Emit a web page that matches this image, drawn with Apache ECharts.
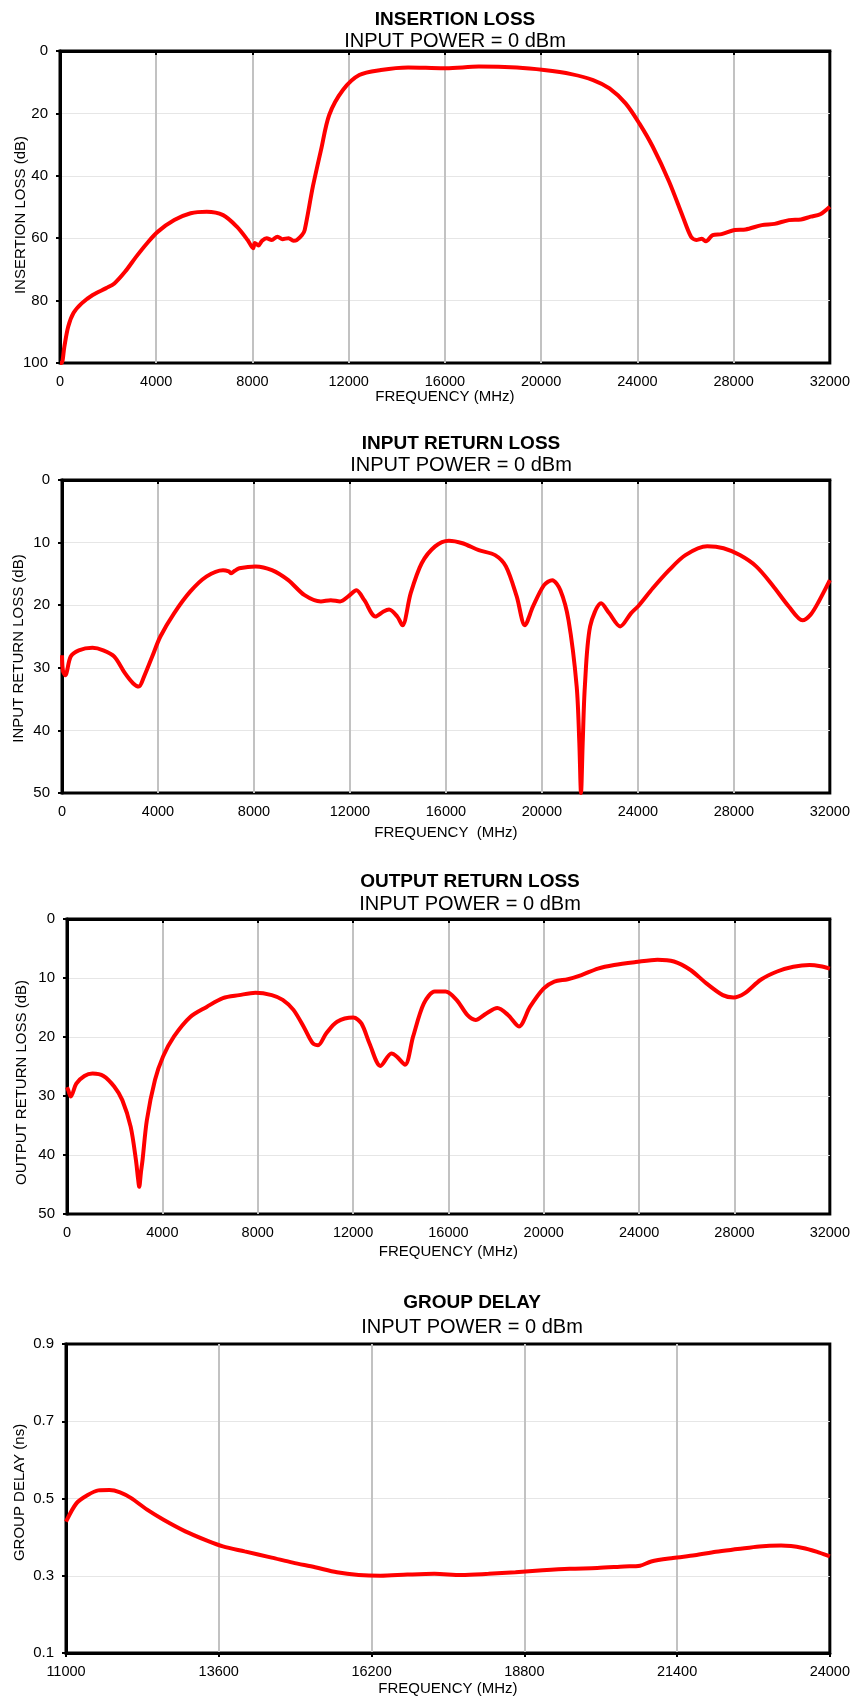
<!DOCTYPE html>
<html>
<head>
<meta charset="utf-8">
<script src="https://cdn.jsdelivr.net/npm/echarts@6/dist/echarts.min.js"></script>
<style>
  html, body { margin: 0; padding: 0; background: #fff; }
  #chart { width: 853px; height: 1698px; }
</style>
</head>
<body>
<div id="chart"></div>
<script>
// insertion loss
const ilFreq = [0, 70, 180, 340, 560, 900, 1360, 1920, 2260, 2710, 3170, 3620, 4070, 4750, 5430, 6100, 6780, 7350, 7800, 8030, 8100, 8250, 8400, 8590, 8800, 9040, 9250, 9500, 9700, 9840, 10060, 10170, 10510, 10850, 11190, 11760, 12440, 13340, 14470, 15200, 16050, 17410, 18990, 20120, 21250, 22160, 22840, 23510, 24080, 24640, 25320, 25890, 26230, 26450, 26680, 26850, 27130, 27500, 28040, 28500, 29170, 29700, 30300, 30800, 31200, 31600, 32000];
const ilLoss = [100, 100, 94.8, 88.4, 84, 80.9, 78.2, 76, 74.5, 70.7, 65.9, 61.6, 57.9, 54.2, 52, 51.5, 52.6, 56.3, 60.6, 63.2, 61.5, 62.3, 60.8, 60, 60.6, 59.5, 60.3, 60, 60.8, 60.6, 59, 57.4, 43.5, 31.7, 20.5, 12.5, 7.7, 6.1, 5.3, 5.4, 5.5, 5.0, 5.3, 6.1, 7.4, 9.3, 12, 16.8, 23.2, 30.7, 41.9, 53.1, 59.5, 60.6, 60.2, 61, 59, 58.7, 57.4, 57.2, 55.8, 55.4, 54.2, 54, 53.1, 52.3, 49.9];

// input return loss
const irlFreq = [0, 40, 136, 363, 700, 1270, 1720, 2180, 2630, 2970, 3200, 3420, 3760, 4100, 4670, 5350, 6030, 6710, 6950, 7050, 7200, 7390, 8070, 8750, 9430, 10110, 10790, 11200, 11590, 11930, 12270, 12600, 13060, 13400, 13630, 13970, 14190, 14530, 14990, 15550, 16120, 16690, 17370, 18050, 18500, 18950, 19290, 19630, 20090, 20430, 20770, 21110, 21450, 21560, 21630, 21700, 21790, 22010, 22470, 22810, 23260, 23710, 24050, 24620, 25300, 25980, 26890, 27570, 28250, 28930, 29610, 30290, 30860, 31200, 31540, 32000];
const irlLoss = [28, 30.5, 31.2, 28.2, 27.2, 26.8, 27.2, 28.2, 30.9, 32.5, 33, 31.4, 28.2, 25, 21.3, 17.8, 15.4, 14.4, 14.6, 14.9, 14.5, 14.1, 13.8, 14.4, 16, 18.4, 19.4, 19.2, 19.4, 18.6, 17.6, 19.2, 21.8, 21, 20.7, 21.8, 23.2, 18.1, 13.3, 10.6, 9.7, 10.1, 11.2, 12, 13.8, 18.6, 23.2, 20.2, 16.8, 16, 17.6, 22.4, 33, 42, 50, 42, 33, 23.4, 19.7, 21.3, 23.4, 21.3, 20, 17.3, 14.4, 12, 10.6, 10.9, 12, 13.8, 16.8, 20.2, 22.4, 21.5, 19.4, 16];

// output return loss
const orlFreq = [0, 50, 160, 390, 730, 1070, 1530, 1980, 2320, 2670, 2890, 2980, 3030, 3100, 3170, 3350, 3690, 4030, 4490, 5170, 5860, 6540, 7220, 7910, 8590, 9050, 9500, 9960, 10300, 10530, 10870, 11330, 12010, 12350, 12690, 13150, 13610, 13830, 14180, 14520, 14970, 15430, 15880, 16340, 16800, 17140, 17590, 18050, 18510, 18960, 19420, 19990, 20440, 21010, 21580, 22270, 22950, 23860, 24770, 25460, 26140, 26820, 27510, 27960, 28420, 29100, 29790, 30470, 31150, 31610, 32000];
const orlLoss = [28.5, 29, 30.1, 27.9, 26.6, 26.2, 26.6, 28.4, 30.7, 35.2, 40.8, 44, 45.4, 43, 40.8, 34.1, 27.3, 23.3, 19.9, 16.6, 14.9, 13.4, 12.9, 12.5, 12.9, 13.7, 15.4, 18.5, 21, 21.4, 19.4, 17.4, 16.7, 17.7, 21.1, 24.9, 22.8, 23.3, 24.7, 19.9, 14.3, 12.3, 12.3, 13.7, 16.3, 17.1, 16, 15.1, 16.3, 18.2, 14.9, 11.8, 10.6, 10.2, 9.5, 8.4, 7.8, 7.3, 6.9, 7.2, 8.6, 10.9, 12.9, 13.3, 12.6, 10.3, 8.9, 8.1, 7.8, 8, 8.4];

// group delay
const gdFreq = [11000, 11180, 11370, 11550, 11740, 11920, 12110, 12380, 12660, 13030, 13400, 13670, 14040, 14500, 14860, 15240, 15610, 15980, 16350, 16810, 17270, 17730, 18190, 18650, 19110, 19570, 20040, 20500, 20770, 20960, 21330, 21700, 22060, 22430, 22800, 23170, 23540, 23820, 24000];
const gdDelay = [0.44, 0.488, 0.509, 0.521, 0.522, 0.516, 0.501, 0.471, 0.445, 0.415, 0.391, 0.376, 0.363, 0.347, 0.334, 0.322, 0.309, 0.302, 0.300, 0.303, 0.305, 0.302, 0.305, 0.309, 0.314, 0.318, 0.320, 0.324, 0.326, 0.337, 0.346, 0.353, 0.362, 0.369, 0.376, 0.378, 0.372, 0.360, 0.350];

const titles = ['INSERTION LOSS', 'INPUT RETURN LOSS', 'OUTPUT RETURN LOSS', 'GROUP DELAY'];
const subtitle = 'INPUT POWER = 0 dBm';
const yNames = ['INSERTION LOSS (dB)', 'INPUT RETURN LOSS (dB)', 'OUTPUT RETURN LOSS (dB)', 'GROUP DELAY (ns)'];
const xNames = ['FREQUENCY (MHz)', 'FREQUENCY  (MHz)', 'FREQUENCY (MHz)', 'FREQUENCY (MHz)'];

const FONT = '"Liberation Sans", Arial, Helvetica, sans-serif';

// layout of the four panels
const grids = [
  { left: 60, top: 51, width: 770, height: 312 },
  { left: 62, top: 480, width: 768, height: 313 },
  { left: 67, top: 919, width: 763, height: 295 },
  { left: 66, top: 1344, width: 766, height: 309 }
];
const titleX = [455, 461, 470, 472];
const titleY = [10, 434, 872, 1293];
const subY = [31, 455, 894, 1317];
const yNameGap = [32, 36, 38, 39];
const yNameShift = [8, 12, 16, -6]; // name centre below the plot centre
const xNameGap = [26, 32, 30, 28];

const xRange = [
  { min: 0, max: 32000, interval: 4000 },
  { min: 0, max: 32000, interval: 4000 },
  { min: 0, max: 32000, interval: 4000 },
  { min: 11000, max: 24000, interval: 2600 }
];
const yRange = [
  { min: 0, max: 100, interval: 20, inverse: true },
  { min: 0, max: 50, interval: 10, inverse: true },
  { min: 0, max: 50, interval: 10, inverse: true },
  { min: 0.1, max: 0.9, interval: 0.2, inverse: false }
];
const seriesData = [
  [ilFreq, ilLoss],
  [irlFreq, irlLoss],
  [orlFreq, orlLoss],
  [gdFreq, gdDelay]
];

const pairs = (xs, ys) => xs.map((x, i) => [x, ys[i]]);

const chart = echarts.init(document.getElementById('chart'), null, { renderer: 'canvas' });

const option = {
  backgroundColor: '#fff',
  animation: false,
  textStyle: { fontFamily: FONT },
  title: [],
  grid: [],
  xAxis: [],
  yAxis: [],
  series: []
};

for (let i = 0; i < 4; i++) {
  const s = yNameShift[i];
  option.title.push({
    text: titles[i], left: titleX[i], top: titleY[i], textAlign: 'center', padding: 0,
    textStyle: { fontFamily: FONT, fontSize: 19, fontWeight: 'bold', color: '#000' }
  });
  option.title.push({
    text: subtitle, left: titleX[i], top: subY[i], textAlign: 'center', padding: 0,
    textStyle: { fontFamily: FONT, fontSize: 20, fontWeight: 'normal', color: '#000' }
  });
  option.grid.push(Object.assign({
    show: true, borderColor: '#000', borderWidth: 3, backgroundColor: 'transparent'
  }, grids[i]));
  option.xAxis.push({
    type: 'value', gridIndex: i,
    min: xRange[i].min, max: xRange[i].max, interval: xRange[i].interval,
    name: xNames[i], nameLocation: 'middle', nameGap: xNameGap[i], nameMoveOverlap: false,
    nameTextStyle: { fontFamily: FONT, fontSize: 15, color: '#000' },
    axisLine: { show: true, lineStyle: { color: '#000', width: 3 } },
    axisTick: { show: true, length: 4, lineStyle: { color: '#000', width: 2 } },
    axisLabel: {
      fontFamily: FONT, fontSize: 14.5, color: '#000', margin: 11,
      formatter: (v) => String(Math.round(v))
    },
    splitLine: { show: true, showMinLine: false, showMaxLine: false, lineStyle: { color: '#c2c2c2', width: 2 } }
  });
  option.yAxis.push({
    type: 'value', gridIndex: i,
    min: yRange[i].min, max: yRange[i].max, interval: yRange[i].interval, inverse: yRange[i].inverse,
    name: yNames[i], nameLocation: 'middle', nameGap: yNameGap[i], nameMoveOverlap: false,
    nameTextStyle: {
      fontFamily: FONT, fontSize: 15, color: '#000',
      padding: s >= 0 ? [0, 2 * s, 0, 0] : [0, 0, 0, -2 * s]
    },
    axisLine: { show: true, lineStyle: { color: '#000', width: 3 } },
    axisTick: { show: true, length: 4, lineStyle: { color: '#000', width: 2 } },
    axisLabel: {
      fontFamily: FONT, fontSize: 15, color: '#000', margin: 12,
      formatter: i === 3 ? (v) => v.toFixed(1) : (v) => String(Math.round(v))
    },
    splitLine: { show: true, showMinLine: false, showMaxLine: false, lineStyle: { color: '#e6e6e6', width: 1 } }
  });
  option.series.push({
    type: 'line', xAxisIndex: i, yAxisIndex: i,
    data: pairs(seriesData[i][0], seriesData[i][1]),
    showSymbol: false, smooth: 0.3, clip: true,
    lineStyle: { color: '#ff0000', width: 4 }
  });
}

chart.setOption(option);
</script>
</body>
</html>
